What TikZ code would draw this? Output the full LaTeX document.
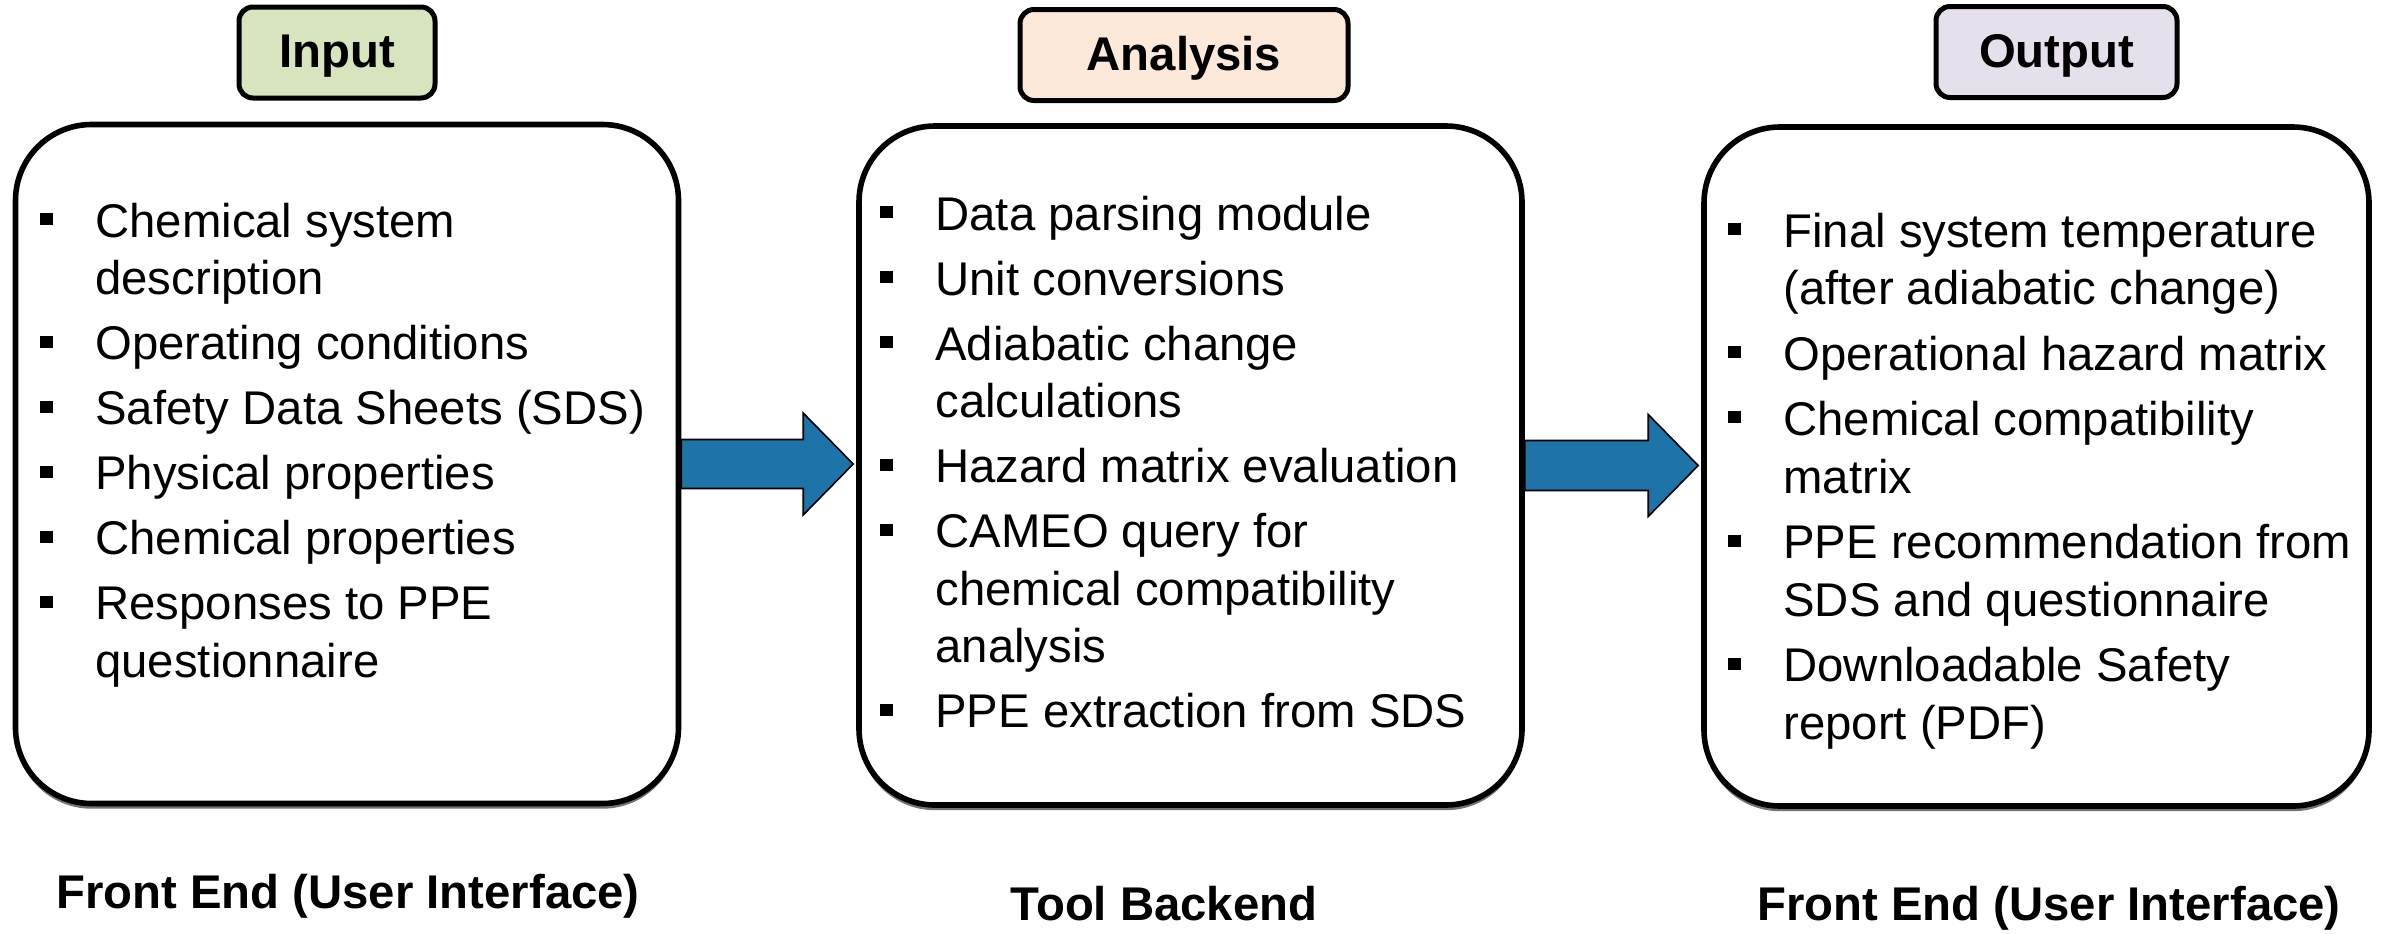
\documentclass[tikz,border=0pt]{standalone}
\usepackage{fontspec}
\setmainfont{Liberation Sans}
\usetikzlibrary{calc,shadows}
\definecolor{inputfill}{RGB}{215,228,189}
\definecolor{analysisfill}{RGB}{253,233,217}
\definecolor{outputfill}{RGB}{229,224,236}
\definecolor{arrowblue}{RGB}{30,115,168}
\newcommand\bitem[1]{\noindent\llap{\rule[6pt]{6.5pt}{6pt}\hspace{21pt}}#1\par}
\newcommand\blist[3]{\parbox[t]{340pt}{\fontsize{23.65pt}{#1}\selectfont\setlength{\parskip}{#2}#3}}
\begin{document}
\begin{tikzpicture}[x=0.5pt,y=-0.5pt,
  mainbox/.style={draw=black, line width=2.8pt, rounded corners=38pt, fill=white,
    inner sep=0pt, minimum width=331.5pt, minimum height=339.5pt,
    drop shadow={shadow xshift=0pt, shadow yshift=-2.6pt, fill=black!55, opacity=1}},
  hdr/.style={draw=black, line width=2.5pt, rounded corners=7pt, inner sep=0pt,
    minimum height=45.5pt, text height=17pt, text depth=2pt,
    font=\fontsize{23.65pt}{28pt}\selectfont\bfseries},
  lbl/.style={font=\fontsize{23.65pt}{28pt}\selectfont\bfseries, inner sep=0pt, anchor=base},
  txt/.style={anchor=base west, inner sep=0pt},
  bigarrow/.style={fill=arrowblue, draw=black, line width=0.8pt, line join=miter}]
\useasboundingbox (0,0) rectangle (2384,933);
\fill[white] (0,0) rectangle (2384,933);

% main boxes
\node[mainbox] (L) at (347,464) {};
\node[mainbox] (M) at (1190.5,465.5) {};
\node[mainbox, minimum width=332.5pt] (R) at (2036.5,466.5) {};

% headers
\node[hdr, fill=inputfill, minimum width=98pt] (hin) at (337,52.5) {Input};
\node[hdr, fill=analysisfill, minimum width=164pt] (han) at (1184,55) {Analysis};
\node[hdr, fill=outputfill, minimum width=120.5pt] (hout) at (2056.5,52) {Output};

% bullet texts
\node[txt] (Lt) at (95,237) {\blist{28.75pt}{3.75pt}{%
\bitem{Chemical system\\description}
\bitem{Operating conditions}
\bitem{Safety Data Sheets (SDS)}
\bitem{Physical properties}
\bitem{Chemical properties}
\bitem{Responses to PPE\\questionnaire}}};

\node[txt] (Mt) at (935,230) {\blist{28.75pt}{3.75pt}{%
\bitem{Data parsing module}
\bitem{Unit conversions}
\bitem{Adiabatic change\\calculations}
\bitem{Hazard matrix evaluation}
\bitem{CAMEO query for\\chemical compatibility\\analysis}
\bitem{PPE extraction from SDS}}};

\node[txt] (Rt) at (1783,247) {\blist{28.9pt}{3.75pt}{%
\bitem{Final system temperature\\(after adiabatic change)}
\bitem{Operational hazard matrix}
\bitem{Chemical compatibility\\matrix}
\bitem{PPE recommendation from\\SDS and questionnaire}
\bitem{Downloadable Safety\\report (PDF)}}};

% arrows
\coordinate (a1s) at (L.east);
\coordinate (a1e) at (M.west |- L.east);
\draw[bigarrow] ($(a1s)+(0,24.5)$) -- ($(a1e)+(-53,24.5)$) -- ($(a1e)+(-53,51)$)
  -- ($(a1e)+(-3,0)$) -- ($(a1e)+(-53,-51)$) -- ($(a1e)+(-53,-24.5)$)
  -- ($(a1s)+(0,-24.5)$) -- cycle;
\coordinate (a2s) at (M.east);
\coordinate (a2e) at (R.west |- M.east);
\draw[bigarrow] ($(a2s)+(0,25)$) -- ($(a2e)+(-53,25)$) -- ($(a2e)+(-53,51)$)
  -- ($(a2e)+(-3,0)$) -- ($(a2e)+(-53,-51)$) -- ($(a2e)+(-53,-25)$)
  -- ($(a2s)+(0,-25)$) -- cycle;

% bottom labels
\node[lbl] (fl) at (348,908) {Front End (User Interface)};
\node[lbl] (tb) at (1164,920) {Tool Backend};
\node[lbl] (fr) at (2049,920) {Front End (User Interface)};
\end{tikzpicture}
\end{document}
